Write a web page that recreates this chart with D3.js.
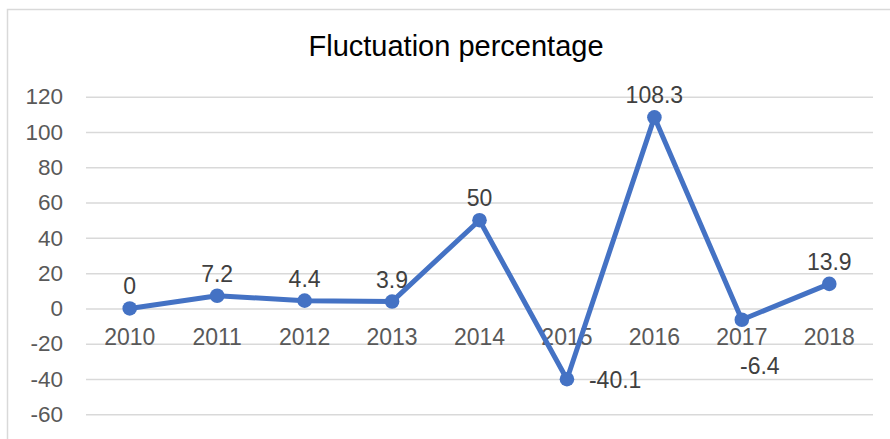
<!DOCTYPE html>
<html>
<head>
<meta charset="utf-8">
<script src="https://cdn.jsdelivr.net/npm/d3@7"></script>
<style>
  html, body { margin: 0; padding: 0; background: #fff; }
  svg { display: block; font-family: "Liberation Sans", Arial, sans-serif; }
</style>
</head>
<body>
<svg id="chart" width="890" height="439"></svg>
<script>
const categories = ["2010", "2011", "2012", "2013", "2014", "2015", "2016", "2017", "2018"];
const values = [0, 7.2, 4.4, 3.9, 50, -40.1, 108.3, -6.4, 13.9];
const valueLabels = ["0", "7.2", "4.4", "3.9", "50", "-40.1", "108.3", "-6.4", "13.9"];
const labelPlacement = ["above", "above", "above", "above", "above", "right", "above", "below", "above"];
const yTicks = [-60, -40, -20, 0, 20, 40, 60, 80, 100, 120];
const title = "Fluctuation percentage";

const svg = d3.select("#chart");
const plot = { left: 86, right: 873, top: 96.7, bottom: 414.3 };

// chart border
svg.append("rect")
  .attr("x", 7.5).attr("y", 9.5)
  .attr("width", 1000).attr("height", 600)
  .attr("fill", "#fff").attr("stroke", "#d9d9d9").attr("stroke-width", 1.5);

const x = d3.scaleBand().domain(categories).range([plot.left, plot.right]).padding(0);
const y = d3.scaleLinear().domain([-60, 120]).range([plot.bottom, plot.top]);
const cx = d => x(d) + x.bandwidth() / 2;

// title
svg.append("text")
  .attr("x", 456).attr("y", 56)
  .attr("text-anchor", "middle")
  .attr("font-size", 29)
  .attr("fill", "#000")
  .text(title);

// gridlines + y tick labels via axis
const yAxis = d3.axisLeft(y)
  .tickValues(yTicks)
  .tickFormat(d => String(d))
  .tickSize(-(plot.right - plot.left))
  .tickPadding(23);
const gy = svg.append("g").attr("transform", `translate(${plot.left},0)`).call(yAxis);
gy.select(".domain").remove();
gy.selectAll(".tick line").attr("stroke", "#d9d9d9").attr("stroke-width", 1.5);
gy.selectAll(".tick text")
  .attr("fill", "#595959")
  .attr("font-size", 22.5)
  .attr("font-family", "'Liberation Sans', Arial, sans-serif");

// category labels (sit just under the zero line)
const xAxis = d3.axisBottom(x).tickSize(0).tickPadding(0);
const gx = svg.append("g").attr("transform", `translate(0,${y(0)})`).call(xAxis);
gx.select(".domain").remove();
gx.selectAll(".tick text")
  .attr("y", 37).attr("dy", null)
  .attr("fill", "#595959")
  .attr("font-size", 23)
  .attr("font-family", "'Liberation Sans', Arial, sans-serif");

// line
const line = d3.line().x((d, i) => cx(categories[i])).y(d => y(d));
svg.append("path")
  .datum(values)
  .attr("d", line)
  .attr("fill", "none")
  .attr("stroke", "#4472c4")
  .attr("stroke-width", 5)
  .attr("stroke-linejoin", "round");

// markers
svg.selectAll("circle.pt")
  .data(values)
  .join("circle")
  .attr("class", "pt")
  .attr("cx", (d, i) => cx(categories[i]))
  .attr("cy", d => y(d))
  .attr("r", 7.3)
  .attr("fill", "#4472c4");

// data labels
const place = {
  above: { dx: 0, dy: -14, anchor: "middle" },
  right: { dx: 22, dy: 9, anchor: "start" },
  below: { dx: 18, dy: 54, anchor: "middle" }
};
svg.selectAll("text.lbl")
  .data(values)
  .join("text")
  .attr("class", "lbl")
  .attr("x", (d, i) => cx(categories[i]) + place[labelPlacement[i]].dx)
  .attr("y", (d, i) => y(d) + place[labelPlacement[i]].dy)
  .attr("text-anchor", (d, i) => place[labelPlacement[i]].anchor)
  .attr("font-size", 23)
  .attr("fill", "#404040")
  .text((d, i) => valueLabels[i]);
</script>
</body>
</html>
